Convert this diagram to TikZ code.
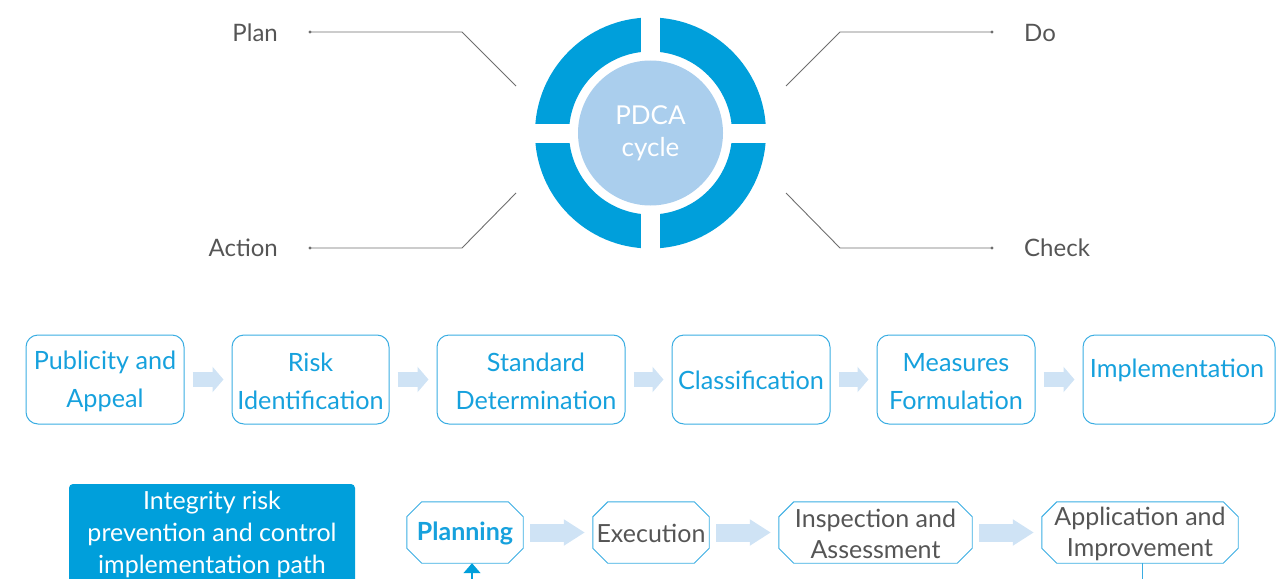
\documentclass[tikz,border=0pt]{standalone}
\usepackage{fontspec}
\setmainfont{Lato}
\usetikzlibrary{arrows.meta,calc}
\definecolor{ring}{HTML}{009FDB}
\definecolor{core}{HTML}{AACEED}
\definecolor{bluetxt}{HTML}{16A1DD}
\definecolor{boxline}{HTML}{3AADE2}
\definecolor{greytxt}{HTML}{555555}
\definecolor{linegrey}{HTML}{6E6E6E}
\definecolor{arrowfill}{HTML}{CFE3F5}
\newcommand\octo[2]{%
 \draw[boxline, line width=0.9pt] ($(#1.north west)+(#2,0)$) -- ($(#1.north east)+(-#2,0)$) -- ($(#1.north east)+(0,#2)$) -- ($(#1.south east)+(0,-#2)$) -- ($(#1.south east)+(-#2,0)$) -- ($(#1.south west)+(#2,0)$) -- ($(#1.south west)+(0,-#2)$) -- ($(#1.north west)+(0,#2)$) -- cycle;}
\begin{document}
\begin{tikzpicture}[x=1pt,y=-1pt,
  lbl/.style={text=greytxt, font=\fontsize{24}{30}\selectfont, inner sep=0pt},
  conn/.style={draw=linegrey, line width=0.9pt},
  rbox/.style={draw=boxline, line width=1pt, rounded corners=12pt, minimum height=89pt, inner sep=0pt},
  btxt/.style={text=bluetxt, align=center, font=\fontsize{25.2}{38}\selectfont, inner sep=0pt},
  obox/.style={minimum height=61pt, inner sep=0pt},
  otxt/.style={text=greytxt, align=center, font=\fontsize{25}{31}\selectfont, inner sep=0pt},
  barrow/.style={draw=arrowfill, line width=15pt, line cap=butt, -{Triangle[width=25pt,length=11pt]}},
  barrowb/.style={draw=arrowfill, line width=18pt, line cap=butt, -{Triangle[width=25pt,length=21pt]}}
]
\useasboundingbox (0,0) rectangle (1284,578);
% ---- PDCA ring
\coordinate (c) at (650.5,133);
\fill[ring, even odd rule] (c) circle (115.5pt) (c) circle (81.5pt);
\fill[white] (641,10) rectangle (660,256);
\fill[white] (530,124) rectangle (771,143);
\node[circle, fill=core, minimum size=145pt, inner sep=0pt, text=white, align=center, font=\fontsize{26}{32}\selectfont] (pdca) at (c) {PDCA\\cycle};
% ---- labels and leaders
\node[lbl, anchor=east] (plan) at (278,33) {Plan};
\node[lbl, anchor=east] (action) at (278,248) {Action};
\node[lbl, anchor=west] (do) at (1024,33) {Do};
\node[lbl, anchor=west] (check) at (1024,248) {Check};
\coordinate (p1) at (310,32); \coordinate (p2) at (462,32); \coordinate (p3) at (516,86);
\coordinate (a1) at (310,248); \coordinate (a2) at (462,248); \coordinate (a3) at (516,193);
\coordinate (d1) at (992,32); \coordinate (d2) at (840,32); \coordinate (d3) at (786,86);
\coordinate (k1) at (992,248); \coordinate (k2) at (840,248); \coordinate (k3) at (786,193);
\draw[conn] (p1) -- (p2) -- (p3);
\draw[conn] (a1) -- (a2) -- (a3);
\draw[conn] (d1) -- (d2) -- (d3);
\draw[conn] (k1) -- (k2) -- (k3);
\foreach \q in {p1,a1,d1,k1} \fill[linegrey] (\q) circle (1.6pt);
% ---- row 2
\node[rbox, minimum width=158pt] (b1) at (105,379.5) {};
\node[rbox, minimum width=157pt] (b2) at (310.5,379.5) {};
\node[rbox, minimum width=188pt] (b3) at (531,379.5) {};
\node[rbox, minimum width=158pt] (b4) at (751,379.5) {};
\node[rbox, minimum width=158pt] (b5) at (956,379.5) {};
\node[rbox, minimum width=192pt] (b6) at (1179,379.5) {};
\node[btxt] (t1) at ($(b1.center)+(0,2)$) {Publicity and\\Appeal};
\node[btxt] (t2) at ($(b2.center)+(0,2)$) {Risk\\Identification};
\node[btxt] (t3) at ($(b3.center)+(5,2)$) {Standard\\Determination};
\node[btxt] (t4) at ($(b4.center)+(0,1)$) {Classification};
\node[btxt] (t5) at ($(b5.center)+(0,2)$) {Measures\\Formulation};
\node[btxt] (t6) at ($(b6.center)+(-2,-9)$) {Implementation};
\foreach \s/\e in {b1/b2,b2/b3,b3/b4,b4/b5,b5/b6}
  \draw[barrow] ($(\s.east)+(8,0)$) -- ($(\e.west)+(-8,0)$);
% ---- row 3
\fill[ring, rounded corners=4pt] (69,484) rectangle (355,640);
\node[text=white, align=center, font=\fontsize{25}{32}\selectfont, inner sep=0pt] (path) at (212,534) {Integrity risk\\prevention and control\\implementation path};
\node[obox, minimum width=116pt] (o1) at (465,532.5) {};
\node[obox, minimum width=116pt] (o2) at (651,532.5) {};
\node[obox, minimum width=193pt] (o3) at (875.5,532.5) {};
\node[obox, minimum width=196pt] (o4) at (1140,532.5) {};
\foreach \o in {o1,o2,o3,o4} \octo{\o}{15};
\node[otxt, text=bluetxt, font=\fontsize{25}{31}\selectfont\bfseries] (ot1) at ($(o1.center)+(0,1)$) {Planning};
\node[otxt] (ot2) at ($(o2.center)+(0,1)$) {Execution};
\node[otxt] (ot3) at ($(o3.center)+(0,1)$) {Inspection and\\Assessment};
\node[otxt] (ot4) at ($(o4.center)+(0,1.5)$) {Application and\\Improvement};
\foreach \s/\e in {o1/o2,o2/o3,o3/o4}
  \draw[barrowb] ($(\s.east)+(7,0)$) -- ($(\e.west)+(-8,0)$);
\coordinate (up0) at (472,600);
\draw[ring, line width=1.5pt, -{Triangle[width=17pt,length=10pt]}] (up0) -- (o1.south -| up0);
\coordinate (dn0) at (1142,600);
\draw[boxline, line width=1pt] (o4.south -| dn0) -- (dn0);
\end{tikzpicture}
\end{document}
